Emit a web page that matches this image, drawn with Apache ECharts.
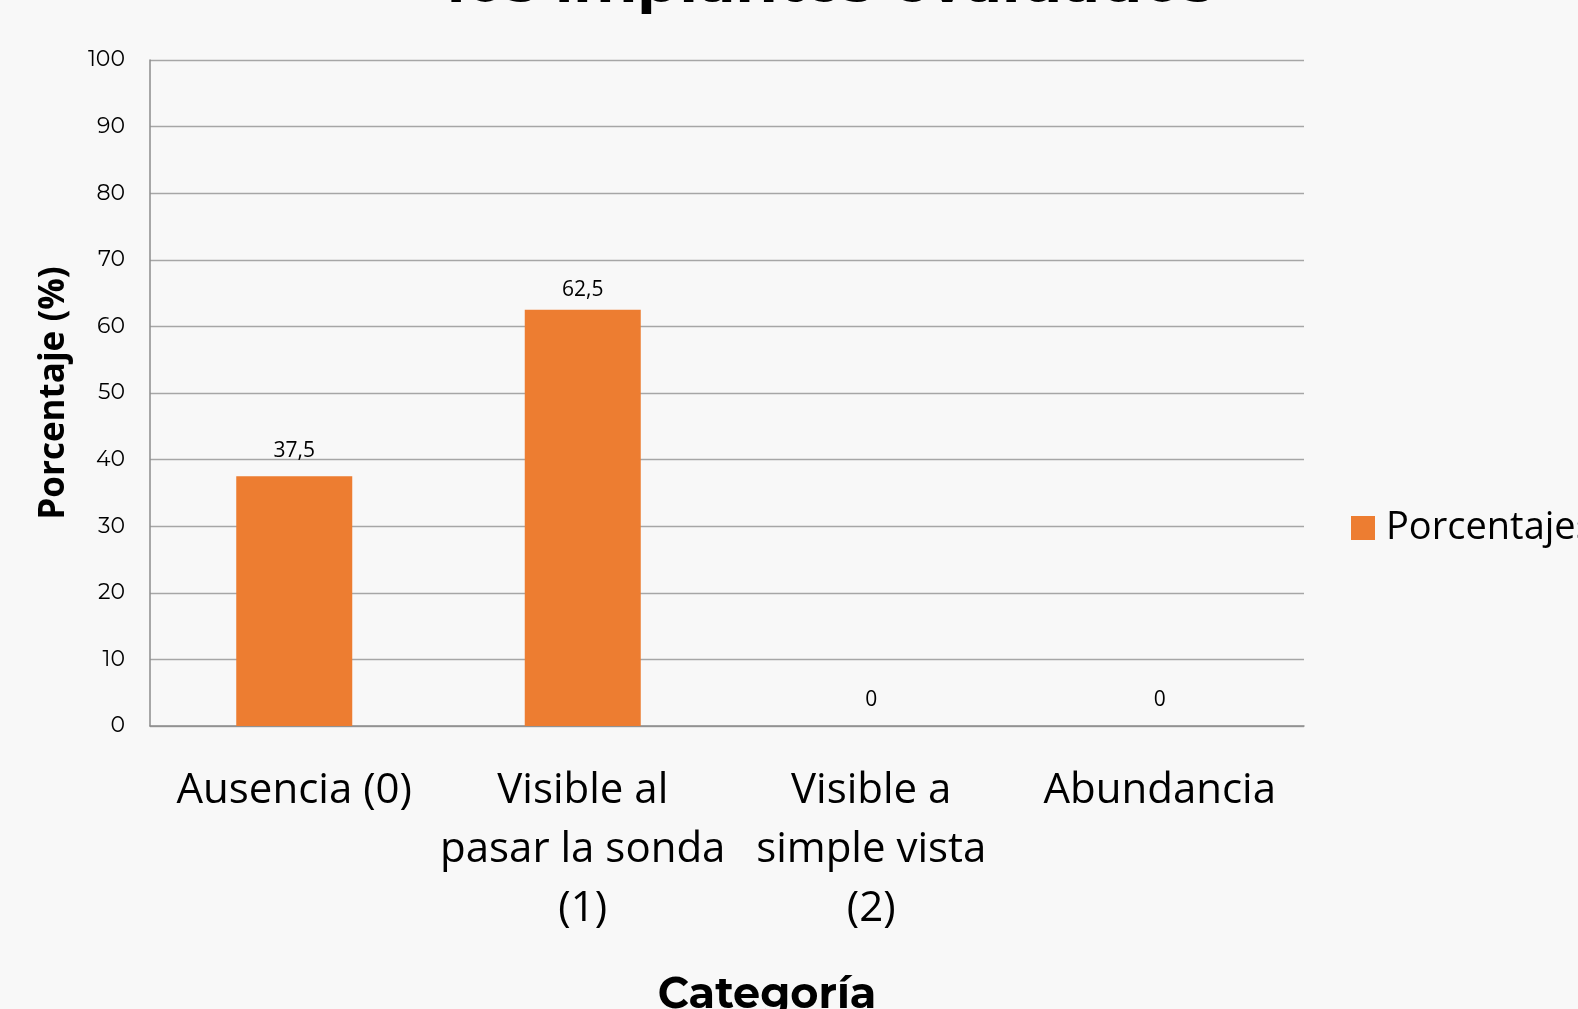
<!DOCTYPE html>
<html><head><meta charset="utf-8">
<script src="https://cdn.jsdelivr.net/npm/echarts@6/dist/echarts.min.js"></script>
<style>html,body{margin:0;padding:0;background:#f8f8f8;}#c{width:1578px;height:1009px;}</style>
</head><body><div id="c"></div>
<script>
const titleFragment = 'los implantes evaluados';
const categories = ['Ausencia (0)', 'Visible al\npasar la sonda\n(1)', 'Visible a\nsimple vista\n(2)', 'Abundancia'];
const porcentajes = [37.5, 62.5, 0, 0];
const yTicks = {min: 0, max: 100, interval: 10};

const chart = echarts.init(document.getElementById('c'));
chart.setOption({
  backgroundColor: '#f8f8f8',
  animation: false,
  graphic: [
    {type: 'text', left: 447, top: -46.5, style: {text: titleFragment, font: 'bold 61px Montserrat, Roboto, sans-serif', fill: '#000'}},
    {type: 'text', x: 767, y: 974, style: {text: 'Categoría', font: 'bold 43px Montserrat, Roboto, sans-serif', fill: '#000', align: 'center', verticalAlign: 'top'}}
  ],
  legend: {
    data: ['Porcentajes'], left: 1346, top: 504, orient: 'vertical',
    itemWidth: 24, itemHeight: 24, icon: 'rect',
    textStyle: {fontFamily: 'Open Sans, sans-serif', fontSize: 38, color: '#000', padding: [0, 0, 0, 6]}
  },
  grid: {left: 150, right: 274, top: 60, bottom: 283, containLabel: false},
  xAxis: {
    type: 'category', data: categories,
    axisLine: {lineStyle: {color: '#8c8c8c', width: 1.5}},
    axisTick: {show: false},
    axisLabel: {fontFamily: 'Open Sans, sans-serif', fontSize: 42, color: '#000', lineHeight: 59, margin: 36, interval: 0}
  },
  yAxis: {
    type: 'value', min: yTicks.min, max: yTicks.max, interval: yTicks.interval,
    name: 'Porcentaje (%)', nameLocation: 'middle', nameGap: 78,
    nameTextStyle: {fontFamily: 'Open Sans, sans-serif', fontSize: 35, fontWeight: 'bold', color: '#000'},
    axisLine: {show: true, lineStyle: {color: '#8c8c8c', width: 1.5}},
    axisTick: {show: false},
    axisLabel: {fontFamily: 'Montserrat, Open Sans, sans-serif', fontSize: 22, color: '#000', margin: 25},
    splitLine: {lineStyle: {color: '#a6a6a6', width: 1.3}}
  },
  series: [{
    name: 'Porcentajes', type: 'bar', barWidth: 116,
    data: porcentajes.map((v, i) => i === 1 ? {value: v, label: {distance: 9}} : v),
    itemStyle: {color: '#ed7d31'},
    label: {show: true, position: 'top', distance: 15, fontFamily: 'Open Sans, sans-serif', fontSize: 21, color: '#000',
      formatter: p => String(p.value).replace('.', ',')}
  }]
});
</script></body></html>
